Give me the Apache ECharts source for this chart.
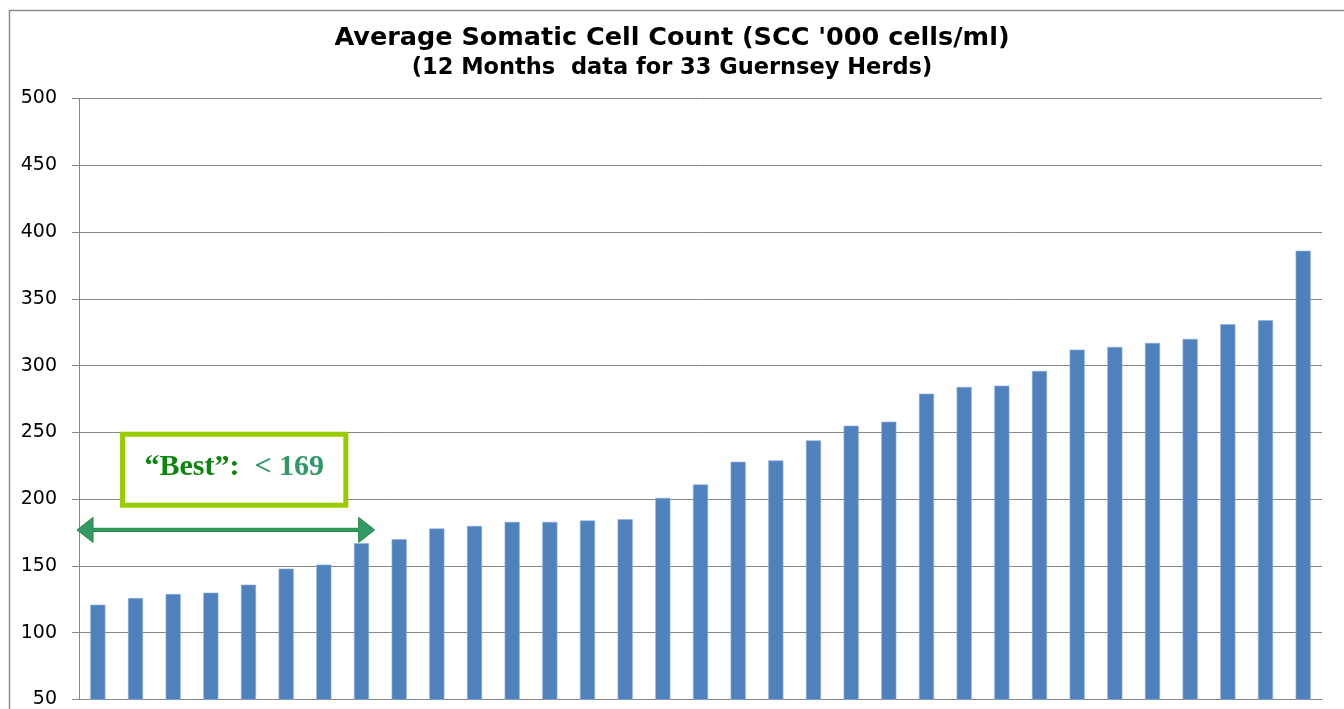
<!DOCTYPE html>
<html>
<head>
<meta charset="utf-8">
<title>Average Somatic Cell Count</title>
<script src="https://cdn.jsdelivr.net/npm/echarts@6/dist/echarts.min.js"></script>
<style>
  html, body { margin: 0; padding: 0; background: #fff; }
  #chart { width: 1344px; height: 709px; }
</style>
</head>
<body>
<div id="chart"></div>
<script>
// herds, sorted by average SCC ('000 cells/ml)
var herds = [];
for (var i = 1; i <= 33; i++) herds.push('Herd ' + i);
var sccValues = [121, 126, 129, 130, 136, 148, 151, 167, 170, 178, 180,
                 183, 183, 184, 185, 201, 211, 228, 229, 244, 255, 258,
                 279, 284, 285, 296, 312, 314, 317, 320, 331, 334, 386];
var yTicks = { min: 50, max: 500, step: 50 };
// "best" band: first 8 herds, threshold text
var bestCount = 8;
var bestLabel = ['\u201cBest\u201d:', '< 169'];
var arrowLevel = 177;

var chart = echarts.init(document.getElementById('chart'));

var option = {
    animation: false,
    backgroundColor: '#fff',
    title: {
        text: "Average Somatic Cell Count (SCC '000 cells/ml)",
        subtext: '(12 Months  data for 33 Guernsey Herds)',
        left: 'center',
        top: 20,
        itemGap: 6,
        textStyle: {
            fontFamily: 'DejaVu Sans',
            fontWeight: 'bold',
            fontSize: 25.5,
            color: '#000'
        },
        subtextStyle: {
            fontFamily: 'DejaVu Sans',
            fontWeight: 'bold',
            fontSize: 22.5,
            color: '#000'
        }
    },
    grid: {
        left: 79,
        right: 22,
        top: 98.5,
        bottom: 8,
        containLabel: false
    },
    xAxis: {
        type: 'category',
        data: herds,
        axisLine: { lineStyle: { color: '#868686', width: 1 } },
        axisTick: { show: false },
        axisLabel: { show: false }
    },
    yAxis: {
        type: 'value',
        min: yTicks.min,
        max: yTicks.max,
        interval: yTicks.step,
        axisLine: { show: true, lineStyle: { color: '#868686', width: 1 } },
        axisTick: { show: true, length: 7, lineStyle: { color: '#868686' } },
        axisLabel: {
            margin: 22,
            fontFamily: 'DejaVu Sans',
            fontSize: 19,
            color: '#000'
        },
        splitLine: { lineStyle: { color: '#868686', width: 1 } }
    },
    series: [{
        type: 'bar',
        data: sccValues,
        barWidth: '40%',
        itemStyle: {
            color: '#4F81BD',
            borderColor: '#8FB0DA',
            borderWidth: 0.6
        }
    }]
};
chart.setOption(option);

// annotation: box + double arrow, placed through the axes
function drawNotes() {
    var p0 = chart.convertToPixel({ gridIndex: 0 }, [0, 250]);
    var p1 = chart.convertToPixel({ gridIndex: 0 }, [1, 250]);
    var band = p1[0] - p0[0];
    var pLast = chart.convertToPixel({ gridIndex: 0 }, [bestCount - 1, arrowLevel]);
    var yTop = chart.convertToPixel({ gridIndex: 0 }, [0, 250.5])[1];
    var yBot = chart.convertToPixel({ gridIndex: 0 }, [0, 193.5])[1];
    var yArr = pLast[1];
    var axisX = p0[0] - band / 2;

    var boxL = p0[0] + 0.59 * band;
    var boxR = pLast[0] - 0.35 * band;
    var tipL = axisX - 2;
    var tipR = pLast[0] + 0.35 * band;
    var head = 16, half = 12.5, shaft = 1.6;

    chart.setOption({
        graphic: [
            {
                type: 'rect',
                left: 7, top: 8,
                shape: { width: 1336, height: 740 },
                style: { fill: 'none', stroke: '#8c8c8c', lineWidth: 1.5 },
                silent: true
            },
            {
                type: 'rect',
                shape: { x: boxL + 2.5, y: yTop + 2.5, width: boxR - boxL - 5, height: yBot - yTop - 5 },
                style: { fill: '#fff', stroke: '#99CC00', lineWidth: 5 },
                z: 10
            },
            {
                type: 'text',
                x: (boxL + boxR) / 2,
                y: (yTop + yBot) / 2 - 3,
                style: {
                    text: '{a|' + bestLabel[0] + '}{b|  ' + bestLabel[1] + '}',
                    align: 'center',
                    verticalAlign: 'middle',
                    rich: {
                        a: { fontFamily: 'Liberation Serif', fontWeight: 'bold', fontSize: 30, fill: '#0A860A' },
                        b: { fontFamily: 'Liberation Serif', fontWeight: 'bold', fontSize: 30, fill: '#2F9966' }
                    }
                },
                z: 11
            },
            {
                type: 'polygon',
                shape: {
                    points: [
                        [tipL, yArr],
                        [tipL + head, yArr - half],
                        [tipL + head, yArr - shaft],
                        [tipR - head, yArr - shaft],
                        [tipR - head, yArr - half],
                        [tipR, yArr],
                        [tipR - head, yArr + half],
                        [tipR - head, yArr + shaft],
                        [tipL + head, yArr + shaft],
                        [tipL + head, yArr + half]
                    ]
                },
                style: { fill: '#339966', stroke: '#1F8A3A', lineWidth: 1 },
                z: 10
            }
        ]
    });
}
drawNotes();
</script>
</body>
</html>
